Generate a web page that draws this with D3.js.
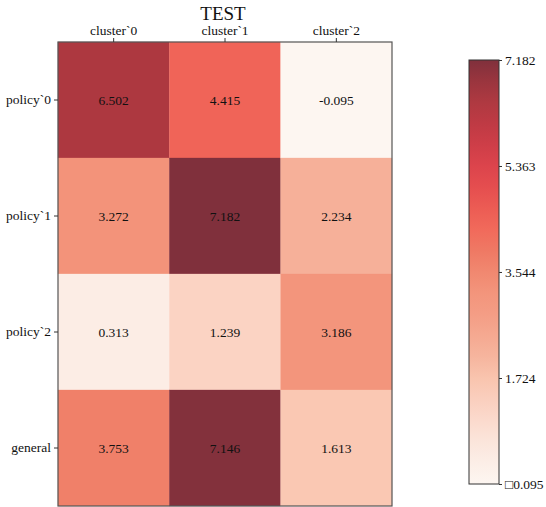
<!DOCTYPE html>
<html>
<head>
<meta charset="utf-8">
<script src="https://cdn.jsdelivr.net/npm/d3@7"></script>
<style>
  body { margin: 0; background: #fff; }
  svg { display: block; }
  svg text { font-family: "Liberation Serif", "DejaVu Serif", serif !important; fill: #111; }
</style>
</head>
<body>
<div id="chart"></div>
<script>
// Heatmap of scores: rows are policies, columns are clusters
const title = "TEST";
const columns = ["cluster`0", "cluster`1", "cluster`2"];
const rows = ["policy`0", "policy`1", "policy`2", "general"];
const values = [
  [6.502, 4.415, -0.095],
  [3.272, 7.182, 2.234],
  [0.313, 1.239, 3.186],
  [3.753, 7.146, 1.613]
];
const colorbarTicks = [-0.095, 1.724, 3.544, 5.363, 7.182];
const colorbarTickLabels = ["\u25A10.095", "1.724", "3.544", "5.363", "7.182"];

const W = 546, H = 507;
const svg = d3.select("#chart").append("svg").attr("width", W).attr("height", H);

const plot = { left: 58, right: 392, top: 42, bottom: 506 };
const flat = values.flat();
const vmin = d3.min(flat), vmax = d3.max(flat);

// Light-to-dark red ramp
const ramp = d3.piecewise(d3.interpolateRgb, [
  "#fdf6f1", "#fbeae1", "#fbd9cc", "#fac9b4", "#f6b39c", "#f4a088",
  "#f3937a", "#ef7d66", "#f16558", "#e65050", "#d8404a", "#c03a44",
  "#a8383f", "#80303c"
]);
const color = d3.scaleSequential(ramp).domain([vmin, vmax]);

const x = d3.scaleBand().domain(columns).range([plot.left, plot.right]);
const y = d3.scaleBand().domain(rows).range([plot.top, plot.bottom]);

const cells = [];
rows.forEach((r, i) => columns.forEach((c, j) => cells.push({ r, c, v: values[i][j] })));

const g = svg.append("g");
g.selectAll("rect.cell").data(cells).join("rect")
  .attr("class", "cell")
  .attr("x", d => x(d.c))
  .attr("y", d => y(d.r))
  .attr("width", x.bandwidth())
  .attr("height", y.bandwidth())
  .attr("fill", d => color(d.v))
  .attr("stroke", d => color(d.v))
  .attr("stroke-width", 0.3);

g.selectAll("text.val").data(cells).join("text")
  .attr("class", "val")
  .attr("x", d => x(d.c) + x.bandwidth() / 2)
  .attr("y", d => y(d.r) + y.bandwidth() / 2)
  .attr("text-anchor", "middle")
  .attr("dominant-baseline", "central")
  .attr("font-size", 13.5)
  .text(d => d.v.toFixed(3));

// frame
svg.append("rect")
  .attr("x", plot.left).attr("y", plot.top)
  .attr("width", plot.right - plot.left).attr("height", plot.bottom - plot.top)
  .attr("fill", "none").attr("stroke", "#555").attr("stroke-width", 1.2);

// top axis (column labels)
const xAxis = d3.axisTop(x).tickSize(4).tickPadding(3);
const gx = svg.append("g").attr("transform", `translate(0,${plot.top})`).call(xAxis);
gx.select(".domain").remove();
gx.selectAll(".tick line").attr("stroke", "#333");
gx.selectAll(".tick text").attr("font-size", 13.5).attr("fill", "#111");

// left axis (row labels)
const yAxis = d3.axisLeft(y).tickSize(4).tickPadding(3);
const gy = svg.append("g").attr("transform", `translate(${plot.left},0)`).call(yAxis);
gy.select(".domain").remove();
gy.selectAll(".tick line").attr("stroke", "#333");
gy.selectAll(".tick text").attr("font-size", 13.5).attr("fill", "#111");

// title
svg.append("text")
  .attr("x", (plot.left + plot.right) / 2 - 2)
  .attr("y", 20)
  .attr("text-anchor", "middle")
  .attr("font-size", 19)
  .text(title);

// colorbar
const cb = { left: 469, right: 499, top: 60, bottom: 484 };
const cbScale = d3.scaleLinear().domain([vmin, vmax]).range([cb.bottom, cb.top]);
const defs = svg.append("defs");
const grad = defs.append("linearGradient").attr("id", "cbgrad")
  .attr("x1", 0).attr("y1", 1).attr("x2", 0).attr("y2", 0);
d3.range(0, 1.0001, 0.05).forEach(t => {
  grad.append("stop").attr("offset", t).attr("stop-color", ramp(t));
});
svg.append("rect")
  .attr("x", cb.left).attr("y", cb.top)
  .attr("width", cb.right - cb.left).attr("height", cb.bottom - cb.top)
  .attr("fill", "url(#cbgrad)")
  .attr("stroke", "#333").attr("stroke-width", 1);

const cbAxis = d3.axisRight(cbScale)
  .tickValues(colorbarTicks)
  .tickFormat((d, i) => colorbarTickLabels[i])
  .tickSize(3).tickPadding(3);
const gcb = svg.append("g").attr("transform", `translate(${cb.right},0)`).call(cbAxis);
gcb.select(".domain").remove();
gcb.selectAll(".tick line").attr("stroke", "#333");
gcb.selectAll(".tick text").attr("font-size", 13.5).attr("fill", "#111");
</script>
</body>
</html>
